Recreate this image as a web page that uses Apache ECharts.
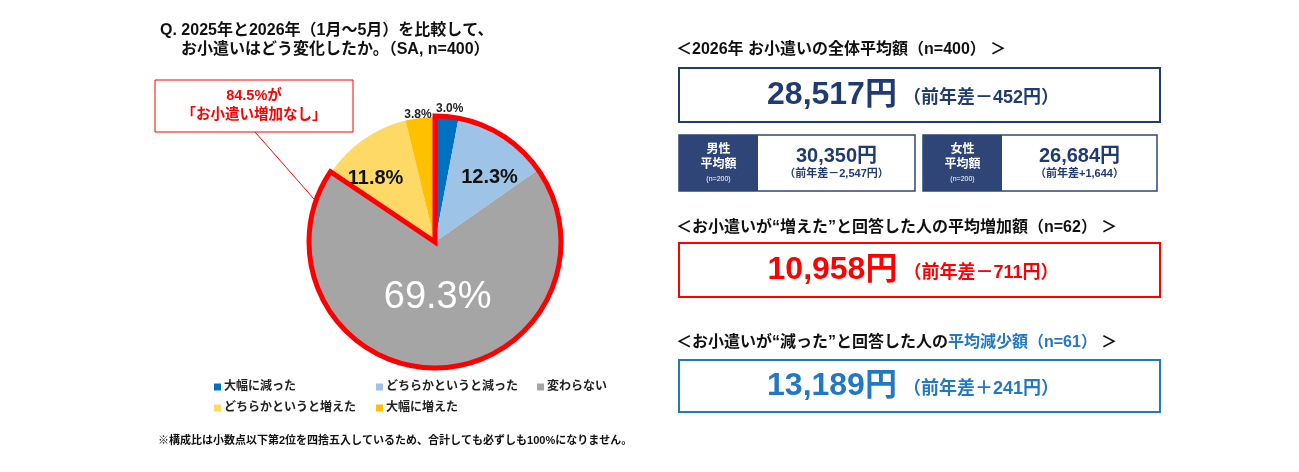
<!DOCTYPE html>
<html>
<head>
<meta charset="utf-8">
<script src="https://cdn.jsdelivr.net/npm/echarts@6/dist/echarts.min.js"></script>
<style>
  html, body { margin: 0; padding: 0; background: #fff; }
  #chart { width: 1299px; height: 472px; }
</style>
</head>
<body>
<div id="chart"></div>
<script>
// pie data
var categories = ['大幅に減った', 'どちらかというと減った', '変わらない', 'どちらかというと増えた', '大幅に増えた']
var shares = [3.0, 12.3, 69.3, 11.8, 3.8]

// right-hand summary panels
var headerTexts = [
  '＜2026年 お小遣いの全体平均額（n=400） ＞',
  '＜お小遣いが“増えた”と回答した人の平均増加額（n=62） ＞',
  ['＜お小遣いが“減った”と回答した人の', '平均減少額（n=61）', ' ＞']
]
var mainValues = ['28,517円', '10,958円', '13,189円']
var mainDiffs = ['（前年差－452円）', '（前年差－711円）', '（前年差＋241円）']
var genderLabels = ['男性', '女性']
var genderN = ['(n=200)', '(n=200)']
var genderValues = ['30,350円', '26,684円']
var genderDiffs = ['（前年差－2,547円）', '（前年差+1,644）']

var FONT = '"Liberation Sans", "Noto Sans CJK JP", sans-serif'
var SLICE_COLORS = ['#0070C0', '#9DC3E6', '#A5A5A5', '#FFD966', '#FFC000']
var NAVY = '#203A72'
var NAVY_FILL = '#2F4577'
var RED = '#FF0000'
var BLUE = '#2277C6'

var LABEL_STYLES = [
  { position: 'outside', fontSize: 12, color: '#222', offset: [-16, -5] },
  { position: 'inside', fontSize: 20, color: '#111', offset: [19, -10] },
  { position: 'inside', fontSize: 38, color: '#fff', fontWeight: 'normal', offset: [2, -10] },
  { position: 'inside', fontSize: 20, color: '#111', offset: [-22, -10] },
  { position: 'outside', fontSize: 12, color: '#222', offset: [17, 1] }
]

var pieData = categories.map(function (name, i) {
  var s = LABEL_STYLES[i]
  return {
    name: name,
    value: shares[i],
    itemStyle: { color: SLICE_COLORS[i] },
    label: {
      show: true,
      position: s.position,
      fontSize: s.fontSize,
      fontWeight: s.fontWeight || 'bold',
      color: s.color,
      offset: s.offset
    }
  }
})

var noIncrease = shares[0] + shares[1] + shares[2]
var increase = shares[3] + shares[4]

function text(x, y, str, font, fill, align) {
  return {
    type: 'text', x: x, y: y, silent: true,
    style: { text: str, font: font, fill: fill, align: align || 'left', verticalAlign: 'middle' }
  }
}

function richText(x, y, str, rich) {
  return {
    type: 'text', x: x, y: y, silent: true,
    style: { text: str, rich: rich, align: 'center', verticalAlign: 'middle', fontFamily: FONT }
  }
}

function valueBox(y, h, color, idx) {
  return [
    { type: 'rect', silent: true, shape: { x: 679, y: y, width: 481, height: h }, style: { fill: '#fff', stroke: color, lineWidth: 2 } },
    richText(913, y + h / 2, '{a|' + mainValues[idx] + '}{b|' + mainDiffs[idx] + '}', {
      a: { fontSize: 32, fontWeight: 'bold', fill: color, fontFamily: FONT },
      b: { fontSize: 18, fontWeight: 'bold', fill: color, fontFamily: FONT, padding: [6, 0, 0, 6] }
    })
  ]
}

function genderBox(x, w, idx) {
  return [
    { type: 'rect', silent: true, shape: { x: x, y: 135, width: w, height: 56 }, style: { fill: '#fff', stroke: NAVY_FILL, lineWidth: 1.5 } },
    { type: 'rect', silent: true, shape: { x: x, y: 135, width: 79, height: 56 }, style: { fill: NAVY_FILL } },
    text(x + 39.5, 150, genderLabels[idx], 'bold 12px ' + FONT, '#fff', 'center'),
    text(x + 39.5, 165, '平均額', 'bold 12px ' + FONT, '#fff', 'center'),
    text(x + 39.5, 179, genderN[idx], '7px ' + FONT, '#fff', 'center'),
    text(x + 79 + (w - 79) / 2, 156, genderValues[idx], 'bold 20px ' + FONT, NAVY, 'center'),
    text(x + 79 + (w - 79) / 2, 174, genderDiffs[idx], 'bold 11px ' + FONT, NAVY, 'center')
  ]
}

var graphics = [
  text(160, 31, 'Q. 2025年と2026年（1月～5月）を比較して、', 'bold 16px ' + FONT, '#111'),
  text(181, 50, 'お小遣いはどう変化したか。（SA, n=400）', 'bold 16px ' + FONT, '#111'),
  { type: 'line', silent: true, shape: { x1: 255, y1: 132, x2: 314, y2: 199 }, style: { stroke: RED, lineWidth: 1 } },
  { type: 'rect', silent: true, shape: { x: 155, y: 80, width: 198, height: 52 }, style: { fill: '#fff', stroke: RED, lineWidth: 1 } },
  text(254, 96, '84.5%が', 'bold 14.5px ' + FONT, RED, 'center'),
  text(254, 115, '「お小遣い増加なし」', 'bold 14.5px ' + FONT, RED, 'center'),
  text(158, 441, '※構成比は小数点以下第2位を四捨五入しているため、合計しても必ずしも100%になりません。', 'bold 11px ' + FONT, '#111'),
  text(676, 50, headerTexts[0], 'bold 16px ' + FONT, '#111'),
  text(676, 228, headerTexts[1], 'bold 16px ' + FONT, '#111'),
  {
    type: 'text', x: 676, y: 343, silent: true,
    style: {
      text: '{k|' + headerTexts[2][0] + '}{b|' + headerTexts[2][1] + '}{k|' + headerTexts[2][2] + '}',
      verticalAlign: 'middle',
      rich: {
        k: { fontSize: 16, fontWeight: 'bold', fill: '#111', fontFamily: FONT },
        b: { fontSize: 16, fontWeight: 'bold', fill: BLUE, fontFamily: FONT }
      }
    }
  }
]
graphics = graphics
  .concat(valueBox(68, 54, NAVY, 0))
  .concat(genderBox(679, 236, 0))
  .concat(genderBox(923, 234, 1))
  .concat(valueBox(243, 54, RED, 1))
  .concat(valueBox(360, 52, BLUE, 2))

var legendBase = {
  orient: 'vertical',
  top: 380,
  padding: 0,
  itemGap: 7,
  itemWidth: 7,
  itemHeight: 7,
  icon: 'rect',
  selectedMode: false,
  textStyle: { fontSize: 12, fontWeight: 'bold', color: '#222', fontFamily: FONT, lineHeight: 14, padding: [0, 0, 0, -2] }
}

var chart = echarts.init(document.getElementById('chart'))
chart.setOption({
  animation: false,
  backgroundColor: '#fff',
  textStyle: { fontFamily: FONT },
  legend: [
    Object.assign({}, legendBase, { left: 214, data: [categories[0], categories[3]] }),
    Object.assign({}, legendBase, { left: 376, data: [categories[1], categories[4]] }),
    Object.assign({}, legendBase, { left: 537, data: [categories[2]] })
  ],
  series: [
    {
      type: 'pie',
      center: [435, 242],
      radius: [0, 125],
      startAngle: 90,
      clockwise: true,
      avoidLabelOverlap: false,
      silent: true,
      label: {
        formatter: function (p) { return p.value.toFixed(1) + '%' },
        fontFamily: FONT
      },
      labelLine: { show: false, length: 4, length2: 0 },
      itemStyle: { borderWidth: 0 },
      data: pieData
    },
    {
      type: 'pie',
      center: [435, 242],
      radius: [0, 126],
      startAngle: 90,
      clockwise: true,
      silent: true,
      z: 5,
      label: { show: false },
      labelLine: { show: false },
      data: [
        { name: 'outline', value: noIncrease, itemStyle: { color: 'rgba(0,0,0,0)', borderColor: RED, borderWidth: 5, borderJoin: 'miter' } },
        { name: 'rest', value: increase, itemStyle: { color: 'rgba(0,0,0,0)', borderWidth: 0 } }
      ]
    }
  ],
  graphic: graphics
})
</script>
</body>
</html>
